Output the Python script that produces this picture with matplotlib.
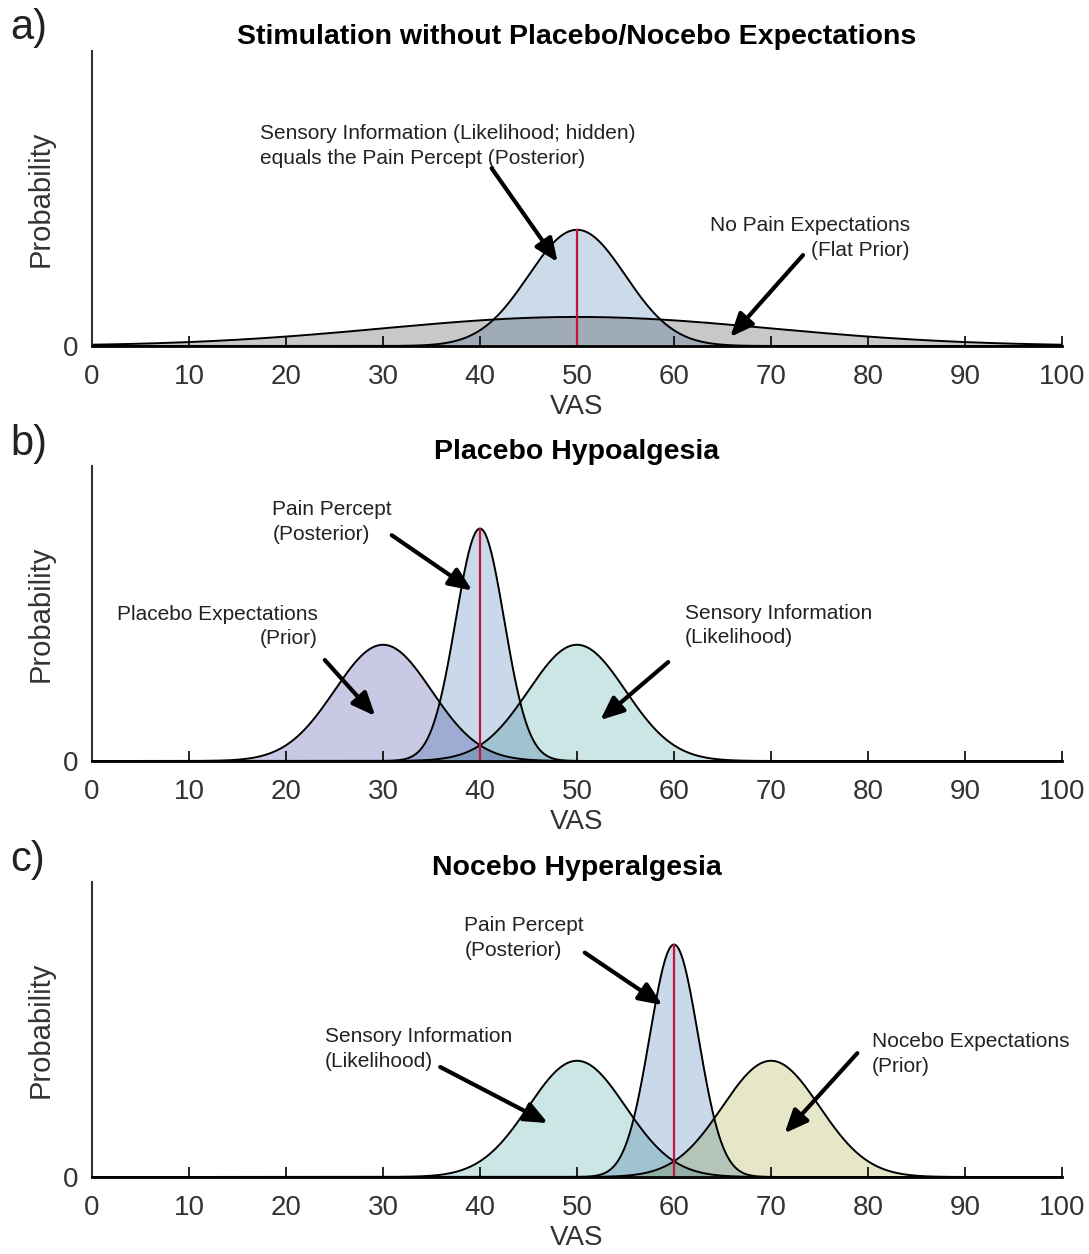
import numpy as np
import matplotlib.pyplot as plt
from itertools import combinations
from matplotlib.colors import to_rgb

plt.rcParams['font.family'] = ['Liberation Sans', 'DejaVu Sans']

# VAS axis and gaussian components (mean, sd) for each panel
vas = np.linspace(0, 100, 2001)

titles = ['Stimulation without Placebo/Nocebo Expectations',
          'Placebo Hypoalgesia',
          'Nocebo Hyperalgesia']
panel_tags = ['a)', 'b)', 'c)']

# panel a: flat prior and hidden likelihood (= posterior)
a_means = [50, 50]
a_sds = [20, 5]
a_colors = ['#c8c8c8', '#cbdbea']

# panel b: prior, likelihood, posterior
b_means = [30, 50, 40]
b_sds = [5, 5, 2.5]
b_colors = ['#c9c9e6', '#cce5e5', '#c9d9e9']

# panel c: likelihood, prior, posterior
c_means = [50, 70, 60]
c_sds = [5, 5, 2.5]
c_colors = ['#cce5e5', '#e6e6c9', '#c9d9e9']

posterior_mean = [50, 40, 60]
posterior_sd = [5, 2.5, 2.5]

# (text, text anchor, arrow tail, arrow head, alignment) in data units
ann_a = [("Sensory Information (Likelihood; hidden)\nequals the Pain Percept (Posterior)",
          (17.3, 0.1375), (41.2, 0.122), (48.0, 0.0576), 'left'),
         ("No Pain Expectations\n(Flat Prior)",
          (84.3, 0.0741), (73.3, 0.0624), (65.8, 0.0062), 'right')]
ann_b = [("Pain Percept\n(Posterior)",
          (18.6, 0.164), (30.9, 0.155), (39.2, 0.117), 'left'),
         ("Placebo Expectations\n(Prior)",
          (23.3, 0.0923), (24.0, 0.0693), (29.2, 0.0309), 'right'),
         ("Sensory Information\n(Likelihood)",
          (61.1, 0.093), (59.4, 0.0679), (52.4, 0.0281), 'left')]
ann_c = [("Pain Percept\n(Posterior)",
          (38.4, 0.164), (50.8, 0.154), (58.8, 0.118), 'left'),
         ("Sensory Information\n(Likelihood)",
          (24.0, 0.0878), (35.9, 0.0755), (47.0, 0.037), 'left'),
         ("Nocebo Expectations\n(Prior)",
          (80.4, 0.0844), (78.9, 0.085), (71.4, 0.030), 'left')]


def gauss(x, m, s):
    return np.exp(-0.5 * ((x - m) / s) ** 2) / (s * np.sqrt(2 * np.pi))


fig = plt.figure(figsize=(10.89, 12.54), dpi=100)
txt = '#333333'
ymax = 0.2025
bottoms = [1 - 346 / 1254, 1 - 761 / 1254, 1 - 1177 / 1254]
height = 295 / 1254
left = 92 / 1089
width = 970 / 1089

panels = [(a_means, a_sds, a_colors, ann_a),
          (b_means, b_sds, b_colors, ann_b),
          (c_means, c_sds, c_colors, ann_c)]

for i, (means, sds, cols, anns) in enumerate(panels):
    ax = fig.add_axes([left, bottoms[i], width, height])
    curves = [gauss(vas, m, s) for m, s in zip(means, sds)]
    rgbs = [np.array(to_rgb(c)) for c in cols]

    # single areas, then overlaps shaded with the product of the colours
    for y, c in zip(curves, rgbs):
        ax.fill_between(vas, 0, y, color=c, lw=0)
    for n in range(2, len(curves) + 1):
        for idx in combinations(range(len(curves)), n):
            ymin = np.min([curves[k] for k in idx], axis=0)
            col = np.prod([rgbs[k] for k in idx], axis=0)
            ax.fill_between(vas, 0, ymin, color=col, lw=0)
    for y in curves:
        ax.plot(vas, y, color='black', lw=1.4)

    pm = posterior_mean[i]
    ax.plot([pm, pm], [0, gauss(pm, pm, posterior_sd[i])], color='#c0143c', lw=1.6)

    ax.set_xlim(0, 100)
    ax.set_ylim(0, ymax)
    ax.set_xticks(np.arange(0, 101, 10))
    ax.set_yticks([0])
    ax.tick_params(direction='in', length=7, width=1.2, labelsize=20,
                   labelcolor=txt, pad=13)
    ax.tick_params(axis='y', length=0, pad=10)
    for sp in ['top', 'right']:
        ax.spines[sp].set_visible(False)
    ax.spines['bottom'].set_linewidth(2.0)
    ax.spines['left'].set_linewidth(1.5)
    ax.spines['left'].set_color('#333333')
    ax.set_xlabel('VAS', fontsize=20, color=txt, labelpad=3)
    ax.set_ylabel('Probability', fontsize=21, color=txt, labelpad=6)
    ax.set_title(titles[i], fontsize=20.5, fontweight='bold', color='black', pad=5)
    ax.patch.set_visible(False)

    for label, tpos, tail, head, ha in anns:
        ax.text(tpos[0], tpos[1], label, ha=ha, va='center', fontsize=15,
                color='#222222', linespacing=1.38)
        ax.annotate('', xy=head, xytext=tail,
                    arrowprops=dict(arrowstyle='-|>,head_length=1.4,head_width=0.6',
                                    color='black', lw=3, shrinkA=0, shrinkB=0))

    fig.text(10 / 1089, 1 - (28 + i * 416) / 1254, panel_tags[i], fontsize=30,
             color='#222222', va='center', ha='left')

fig.savefig('out.png', dpi=100)
